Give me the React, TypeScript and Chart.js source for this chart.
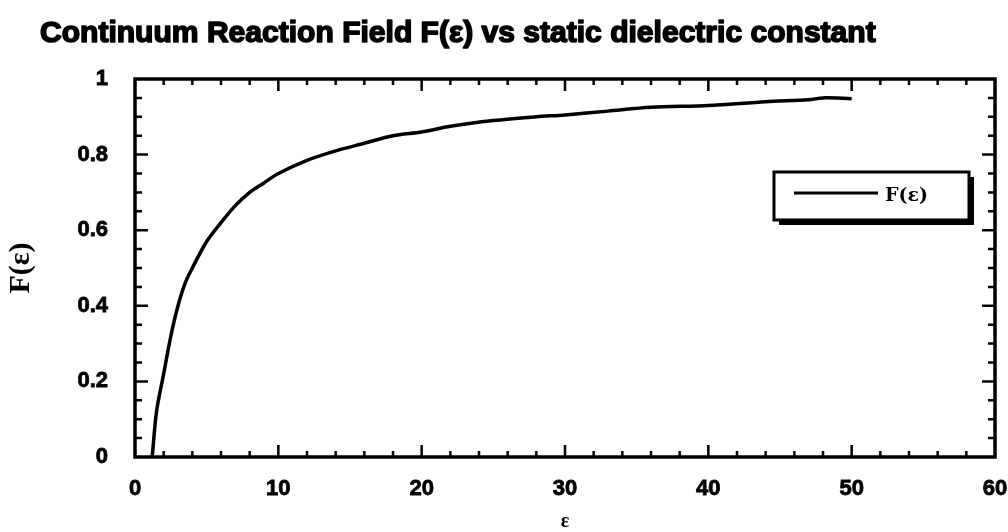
import React, { useEffect, useRef } from "react";
import { Chart, registerables } from "chart.js";

Chart.register(...registerables);

const TITLE = "Continuum Reaction Field F(\u03b5) vs static dielectric constant";
const X_TITLE = "\u03b5";
const Y_TITLE = "F(\u03b5)";
const SERIES_LABEL = "F(\u03b5)";

const EPS = [1.2, 1.5, 2, 2.5, 3, 3.5, 4, 5, 6, 7, 8, 9, 10, 12, 14, 16, 18, 20, 22, 25, 28, 30, 33, 36, 40, 44, 47, 48, 50];
const F_VALUES = [0, 0.12, 0.22, 0.32, 0.4, 0.46, 0.5, 0.57, 0.62, 0.665, 0.7, 0.725, 0.75, 0.785, 0.81, 0.83, 0.85, 0.86, 0.875, 0.89, 0.9, 0.905, 0.915, 0.925, 0.93, 0.94, 0.945, 0.95, 0.948];

const X_MIN = 0;
const X_MAX = 60;
const X_MAJOR = 10;
const X_MINOR = 2;
const Y_MIN = 0;
const Y_MAX = 1;
const Y_MAJOR = 0.2;
const Y_MINOR = 0.05;

const framePlugin = {
  id: "frameAndDecor",
  afterDraw(chart: any) {
    const ctx = chart.ctx;
    const { left, right, top, bottom } = chart.chartArea;
    const xs = chart.scales.x;
    const ys = chart.scales.y;
    ctx.save();
    ctx.strokeStyle = "#000";
    ctx.fillStyle = "#000";
    // ticks
    ctx.lineWidth = 2.5;
    const nx = Math.round((X_MAX - X_MIN) / X_MINOR);
    for (let i = 1; i < nx; i++) {
      const v = X_MIN + i * X_MINOR;
      const major = Math.abs(v / X_MAJOR - Math.round(v / X_MAJOR)) < 1e-6;
      const len = major ? 12 : 6;
      const px = xs.getPixelForValue(v);
      ctx.beginPath();
      ctx.moveTo(px, bottom);
      ctx.lineTo(px, bottom - len);
      ctx.moveTo(px, top);
      ctx.lineTo(px, top + len);
      ctx.stroke();
    }
    const ny = Math.round((Y_MAX - Y_MIN) / Y_MINOR);
    for (let i = 1; i < ny; i++) {
      const v = Y_MIN + i * Y_MINOR;
      const major = Math.abs(v / Y_MAJOR - Math.round(v / Y_MAJOR)) < 1e-6;
      const len = major ? 13 : 7;
      const py = ys.getPixelForValue(v);
      ctx.beginPath();
      ctx.moveTo(left, py);
      ctx.lineTo(left + len, py);
      ctx.moveTo(right, py);
      ctx.lineTo(right - len, py);
      ctx.stroke();
    }
    // frame
    ctx.lineWidth = 3.5;
    ctx.strokeRect(left, top, right - left, bottom - top);

    // title, fitted to the reference span
    ctx.font = "bold 26px 'Liberation Sans', Arial, sans-serif";
    const w = ctx.measureText(TITLE).width;
    const size = (26 * 836) / w;
    ctx.font = `bold ${size.toFixed(2)}px 'Liberation Sans', Arial, sans-serif`;
    ctx.textBaseline = "middle";
    ctx.textAlign = "left";
    ctx.lineWidth = 1.6;
    ctx.lineJoin = "round";
    ctx.fillText(TITLE, 40, 34);
    ctx.strokeText(TITLE, 40, 34);

    // legend
    const bx = left + (right - left) * 0.743;
    const by = top + (bottom - top) * 0.246;
    const bw = 195;
    const bh = 48;
    ctx.fillRect(bx + 5, by + 5, bw, bh);
    ctx.fillStyle = "#fff";
    ctx.fillRect(bx, by, bw, bh);
    ctx.lineWidth = 3;
    ctx.lineJoin = "miter";
    ctx.strokeRect(bx, by, bw, bh);
    ctx.beginPath();
    ctx.lineWidth = 3;
    ctx.moveTo(bx + 20, by + 21);
    ctx.lineTo(bx + 104, by + 21);
    ctx.stroke();
    ctx.fillStyle = "#000";
    ctx.font = "bold 19px 'DejaVu Serif', 'Liberation Serif', serif";
    ctx.textBaseline = "middle";
    ctx.fillText(SERIES_LABEL, bx + 111, by + 24);
    ctx.restore();
  },
};

export default function App() {
  const ref = useRef<HTMLCanvasElement | null>(null);
  useEffect(() => {
    if (!ref.current) return;
    const data = EPS.map((x, i) => ({ x, y: F_VALUES[i] }));
    const tickFont = { family: "'Liberation Sans', Arial, sans-serif", size: 22, weight: "bold" as const };
    const fmt = (v: any) => String(Number(Number(v).toFixed(2)));
    const chart = new Chart(ref.current, {
      type: "scatter",
      data: {
        datasets: [
          {
            label: SERIES_LABEL,
            data,
            showLine: true,
            borderColor: "#000",
            borderWidth: 3.5,
            pointRadius: 0,
            tension: 0.3,
            fill: false,
          },
        ],
      },
      options: {
        responsive: false,
        animation: false,
        devicePixelRatio: 1,
        layout: { padding: { top: 79, right: 13, left: 0, bottom: 0 } },
        plugins: {
          legend: { display: false },
          title: { display: false },
          tooltip: { enabled: false },
        },
        scales: {
          x: {
            type: "linear",
            min: X_MIN,
            max: X_MAX,
            border: { display: false },
            grid: { display: false, drawTicks: true, tickLength: 19 },
            ticks: {
              stepSize: X_MAJOR,
              color: "#000",
              font: tickFont,
              padding: 0,
              textStrokeColor: "#000",
              textStrokeWidth: 0.8,
              callback: fmt,
            },
            title: {
              display: true,
              text: X_TITLE,
              color: "#000",
              font: { family: "'Liberation Serif', 'Times New Roman', serif", size: 20, weight: "bold", lineHeight: 1 },
              padding: { top: 0, bottom: 0 },
            },
            afterFit(scale: any) {
              scale.height = 75;
            },
          },
          y: {
            type: "linear",
            min: Y_MIN,
            max: Y_MAX,
            border: { display: false },
            grid: { display: false, drawTicks: true, tickLength: 27 },
            ticks: {
              stepSize: Y_MAJOR,
              color: "#000",
              font: tickFont,
              padding: 0,
              textStrokeColor: "#000",
              textStrokeWidth: 0.8,
              callback: fmt,
            },
            title: {
              display: true,
              text: Y_TITLE,
              color: "#000",
              font: { family: "'Liberation Serif', 'Times New Roman', serif", size: 30, weight: "bold", lineHeight: 1.2 },
              padding: { top: 3, bottom: 0 },
            },
            afterFit(scale: any) {
              scale.width = 135;
            },
          },
        },
      },
      plugins: [framePlugin],
    });
    return () => chart.destroy();
  }, []);
  return (
    <div style={{ position: "fixed", left: 0, top: 0, width: 1008, height: 532, background: "#fff" }}>
      <canvas ref={ref} width={1008} height={532} style={{ display: "block" }} />
    </div>
  );
}
